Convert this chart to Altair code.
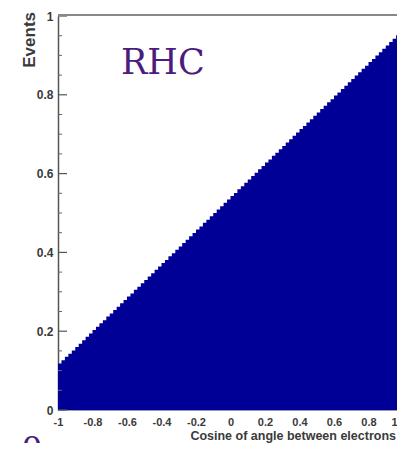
import altair as alt
import pandas as pd

# Histogram contents (100 bins from -1 to 1)
events = [
    0.118, 0.126, 0.135, 0.143, 0.151, 0.160, 0.168, 0.177, 0.186, 0.194,
    0.203, 0.211, 0.220, 0.228, 0.237, 0.245, 0.254, 0.262, 0.271, 0.279,
    0.288, 0.296, 0.305, 0.313, 0.322, 0.330, 0.339, 0.347, 0.356, 0.364,
    0.373, 0.381, 0.390, 0.398, 0.407, 0.415, 0.424, 0.432, 0.441, 0.449,
    0.458, 0.466, 0.475, 0.483, 0.492, 0.500, 0.509, 0.517, 0.526, 0.534,
    0.543, 0.551, 0.560, 0.568, 0.577, 0.585, 0.594, 0.602, 0.611, 0.619,
    0.628, 0.636, 0.645, 0.653, 0.662, 0.670, 0.679, 0.687, 0.696, 0.704,
    0.713, 0.721, 0.730, 0.738, 0.747, 0.755, 0.764, 0.772, 0.781, 0.789,
    0.798, 0.806, 0.815, 0.823, 0.832, 0.840, 0.849, 0.857, 0.866, 0.874,
    0.883, 0.891, 0.900, 0.908, 0.917, 0.925, 0.934, 0.942, 0.951, 0.959,
]
n_bins = len(events)
bin_left = [-1 + 2 * i / n_bins for i in range(n_bins)]

x_ticks = [-1, -0.8, -0.6, -0.4, -0.2, 0, 0.2, 0.4, 0.6, 0.8, 1]
y_major = [0, 0.2, 0.4, 0.6, 0.8, 1]
y_minor = [0.05, 0.1, 0.15, 0.25, 0.3, 0.35, 0.45, 0.5, 0.55,
           0.65, 0.7, 0.75, 0.85, 0.9, 0.95]

title_text = "RHC"
x_title = "Cosine of angle between electrons"
y_title = "Events"
corner_text = "0"

hist_df = pd.DataFrame({"x": bin_left + [1.0], "y": events + [events[-1]]})

W, H = 345, 394
x_scale = alt.Scale(domain=[-1, 1], nice=False, zero=False)
y_scale = alt.Scale(domain=[0, 1], nice=False)
LABEL_FONT = "Liberation Sans"
LABEL_COLOR = "#3a3a3a"
PURPLE = "#4b1c7d"

area = alt.Chart(hist_df).mark_area(
    interpolate="step-after", color="#000096"
).encode(
    x=alt.X("x:Q", scale=x_scale, axis=alt.Axis(
        values=x_ticks, title=None, ticks=False, grid=False,
        domain=True, domainColor="#9a9ab8", domainWidth=1,
        labelExpr="replace(format(datum.value, '.1~f'), '\u2212', '-')",
        labelFont=LABEL_FONT, labelFontWeight="bold", labelFontSize=11,
        labelColor=LABEL_COLOR, labelPadding=6, labelFlush=False,
        labelAlign={"condition": {"test": "datum.value == 1", "value": "right"},
                    "value": "center"},
        labelOffset={"condition": {"test": "datum.value == 1", "value": -6},
                     "value": 0},
        labelOverlap=False)),
    y=alt.Y("y:Q", scale=y_scale, axis=alt.Axis(
        values=y_major, title=None, ticks=False, grid=False,
        domain=True, domainColor="#555555", domainWidth=1.5,
        labelExpr="format(datum.value, '.1~f')",
        labelFont=LABEL_FONT, labelFontWeight="bold", labelFontSize=12,
        labelColor=LABEL_COLOR, labelPadding=5, labelOverlap=False)),
)

major_ticks = alt.Chart(pd.DataFrame({"v": y_major})).mark_rule(
    color="#555555", strokeWidth=1.2
).encode(y=alt.Y("v:Q", scale=y_scale), x=alt.value(0), x2=alt.value(9))

minor_ticks = alt.Chart(pd.DataFrame({"v": y_minor})).mark_rule(
    color="#666666", strokeWidth=1
).encode(y=alt.Y("v:Q", scale=y_scale), x=alt.value(0), x2=alt.value(4))

top_line = alt.Chart(pd.DataFrame({"a": [0]})).mark_rule(
    color="#888888", strokeWidth=2
).encode(y=alt.value(-1), x=alt.value(0), x2=alt.value(W + 4))

title_mark = alt.Chart(pd.DataFrame({"t": [title_text]})).mark_text(
    font="DejaVu Serif", fontSize=35, color=PURPLE,
    align="left", baseline="alphabetic"
).encode(text="t:N", x=alt.value(63), y=alt.value(58))

xtitle_mark = alt.Chart(pd.DataFrame({"t": [x_title]})).mark_text(
    font=LABEL_FONT, fontWeight="bold", fontSize=12.5, color=LABEL_COLOR,
    align="right", baseline="alphabetic"
).encode(text="t:N", x=alt.value(338), y=alt.value(424))

ytitle_mark = alt.Chart(pd.DataFrame({"t": [y_title]})).mark_text(
    font=LABEL_FONT, fontWeight="bold", fontSize=17, color=LABEL_COLOR,
    align="right", baseline="alphabetic", angle=270
).encode(text="t:N", x=alt.value(-23), y=alt.value(-4))

corner_mark = alt.Chart(pd.DataFrame({"t": [corner_text]})).mark_text(
    font="Liberation Serif", fontSize=40, color=PURPLE,
    align="center", baseline="alphabetic"
).encode(text="t:N", x=alt.value(-26), y=alt.value(446))

chart = alt.layer(
    area, major_ticks, minor_ticks, top_line,
    title_mark, xtitle_mark, ytitle_mark, corner_mark
).properties(
    width=W, height=H,
    autosize=alt.AutoSizeParams(type="none"),
    padding={"left": 50, "top": 8, "right": -6, "bottom": 33},
).configure_view(stroke=None)

chart.save("out.html", embed_options={"renderer": "svg", "actions": False})
